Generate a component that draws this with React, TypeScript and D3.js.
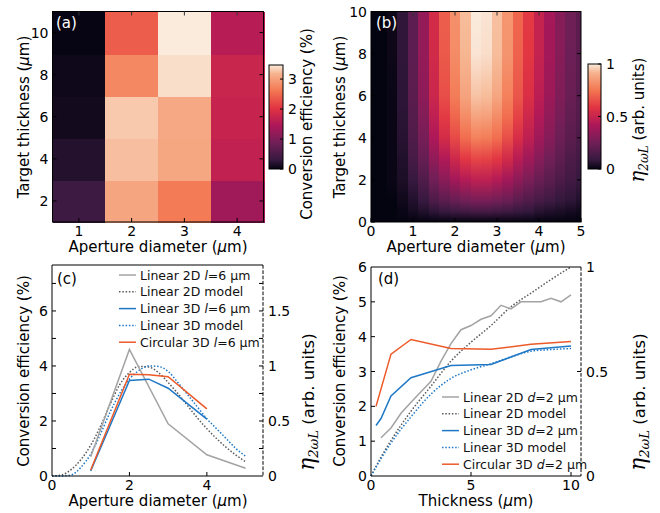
import React from "react";
import * as d3 from "d3";

// (a) simulated conversion efficiency (%), rows = thickness, cols = aperture
const apertures = [1, 2, 3, 4];
const thicknesses = [2, 4, 6, 8, 10];
const efficiencyGrid = [
  [0.36, 3.04, 2.65, 1.32],
  [0.18, 3.24, 3.06, 1.66],
  [0.09, 3.29, 3.07, 1.72],
  [0.06, 2.77, 3.4, 1.75],
  [0.02, 2.39, 3.47, 1.56],
];

// (b) model map eta_2wL, rows = modelThicknesses, cols = modelApertures
const modelApertures = [0, 0.25, 0.5, 0.75, 1, 1.25, 1.5, 1.75, 2, 2.25, 2.5, 2.75, 3, 3.25, 3.5, 3.75, 4, 4.25, 4.5, 4.75, 5];
const modelThicknesses = [0, 0.5, 1, 2, 3, 4, 5, 6, 8, 10];
const modelGrid = [
  [0, 0, 0, 0, 0, 0, 0, 0, 0, 0, 0, 0, 0, 0, 0, 0, 0, 0, 0, 0, 0],
  [0, 0, 0, 0.01, 0.03, 0.05, 0.07, 0.09, 0.11, 0.12, 0.13, 0.13, 0.12, 0.11, 0.09, 0.08, 0.06, 0.05, 0.04, 0.03, 0.02],
  [0, 0, 0, 0.02, 0.05, 0.09, 0.15, 0.19, 0.22, 0.25, 0.27, 0.27, 0.25, 0.23, 0.19, 0.16, 0.13, 0.11, 0.08, 0.07, 0.05],
  [0, 0, 0.01, 0.04, 0.09, 0.16, 0.25, 0.32, 0.39, 0.44, 0.47, 0.47, 0.44, 0.39, 0.33, 0.28, 0.23, 0.19, 0.15, 0.12, 0.09],
  [0, 0, 0.01, 0.05, 0.13, 0.22, 0.34, 0.43, 0.52, 0.59, 0.63, 0.62, 0.59, 0.53, 0.45, 0.38, 0.31, 0.25, 0.2, 0.15, 0.12],
  [0, 0, 0.01, 0.06, 0.16, 0.27, 0.42, 0.54, 0.64, 0.73, 0.78, 0.77, 0.73, 0.65, 0.55, 0.47, 0.38, 0.31, 0.24, 0.19, 0.15],
  [0, 0, 0.01, 0.065, 0.17, 0.3, 0.47, 0.6, 0.71, 0.81, 0.87, 0.86, 0.81, 0.73, 0.62, 0.52, 0.43, 0.34, 0.27, 0.21, 0.17],
  [0, 0, 0.01, 0.07, 0.19, 0.33, 0.51, 0.65, 0.77, 0.87, 0.94, 0.93, 0.88, 0.78, 0.67, 0.56, 0.46, 0.37, 0.29, 0.23, 0.18],
  [0, 0, 0.015, 0.074, 0.2, 0.35, 0.53, 0.68, 0.81, 0.92, 0.99, 0.98, 0.93, 0.83, 0.7, 0.59, 0.49, 0.39, 0.31, 0.24, 0.19],
  [0, 0, 0.015, 0.075, 0.2, 0.35, 0.54, 0.69, 0.82, 0.93, 1.0, 0.99, 0.935, 0.835, 0.71, 0.6, 0.49, 0.395, 0.31, 0.245, 0.19],
];

// (c) efficiency vs aperture at l = 6 um
const cAp2D = [1, 2, 3, 4, 5];
const cLinear2D = [0.7, 4.6, 1.9, 0.77, 0.28];
const cAp3D = [1, 2, 2.5, 3, 4];
const cLinear3D = [0.18, 3.47, 3.52, 3.19, 2.07];
const cCircular3D = [0.22, 3.7, 3.68, 3.61, 2.44];
const cModelAp = [0, 0.25, 0.5, 0.75, 1, 1.25, 1.5, 1.75, 2, 2.25, 2.5, 2.75, 3, 3.25, 3.5, 3.75, 4, 4.25, 4.5, 4.75, 5];
const cModel2D = [0, 0.01, 0.06, 0.15, 0.28, 0.45, 0.65, 0.83, 0.94, 0.995, 0.99, 0.94, 0.85, 0.75, 0.64, 0.53, 0.43, 0.34, 0.26, 0.19, 0.13];
const cModel3D = [0, 0, 0.01, 0.08, 0.2, 0.38, 0.58, 0.75, 0.88, 0.96, 1.0, 0.995, 0.95, 0.85, 0.74, 0.63, 0.52, 0.43, 0.34, 0.25, 0.18];

// (d) efficiency vs thickness at d = 2 um
const dTh2D = [0.5, 1, 1.5, 2, 2.5, 3, 3.5, 4, 4.5, 5, 5.5, 6, 6.5, 7, 7.5, 8, 8.5, 9, 9.5, 10];
const dLinear2D = [1.1, 1.38, 1.8, 2.12, 2.42, 2.72, 3.3, 3.8, 4.2, 4.32, 4.5, 4.6, 4.9, 4.8, 5.0, 5.0, 5.0, 5.1, 5.0, 5.2];
const dTh3D = [0.25, 0.5, 1, 2, 4, 6, 8, 10];
const dLinear3D = [1.45, 1.65, 2.3, 2.82, 3.17, 3.2, 3.63, 3.73];
const dThCirc = [0.25, 1, 2, 4, 6, 8, 10];
const dCircular3D = [2.0, 3.5, 3.92, 3.66, 3.64, 3.78, 3.86];
const dModelTh = [0, 0.5, 1, 2, 3, 4, 5, 6, 7, 8, 9, 10];
const dModel2D = [0, 0.09, 0.17, 0.31, 0.43, 0.55, 0.64, 0.72, 0.81, 0.875, 0.94, 1.0];
const dModel3D = [0, 0.083, 0.158, 0.283, 0.392, 0.467, 0.508, 0.537, 0.57, 0.597, 0.605, 0.61];

const rocketPos = [0, 1 / 12, 3 / 12, 5 / 12, 7 / 12, 9 / 12, 11 / 12, 1];
const rocketCols = ["#040310", "#35193e", "#701f57", "#ad1759", "#e13342", "#f37651", "#f6b48f", "#faebdd"];
const rocket = d3.scaleLinear<string>().domain(rocketPos).range(rocketCols).interpolate(d3.interpolateRgb).clamp(true);

const FONT = "DejaVu Sans";
const GRAY = "#a3a3a3";
const DGRAY = "#5a5a5a";
const BLUE = "#1f78c6";
const ORANGE = "#ec5a29";

const LeftAxis = ({ scale, x, ticks, labels, fmt = (v) => String(v), len = 4 }) => (
  <g>
    {ticks.map((t) => (
      <line key={"t" + t} x1={x} x2={x + len} y1={scale(t)} y2={scale(t)} stroke="#000" />
    ))}
    {labels.map((t) => (
      <text key={"l" + t} x={x - 4} y={scale(t)} dy="0.36em" textAnchor="end" fontSize={14} fontFamily={FONT}>
        {fmt(t)}
      </text>
    ))}
  </g>
);

const RightAxis = ({ scale, x, ticks, labels, fmt = (v) => String(v), len = 4 }) => (
  <g>
    {ticks.map((t) => (
      <line key={"t" + t} x1={x} x2={x - len} y1={scale(t)} y2={scale(t)} stroke="#000" />
    ))}
    {labels.map((t) => (
      <text key={"l" + t} x={x + 5} y={scale(t)} dy="0.36em" textAnchor="start" fontSize={14} fontFamily={FONT}>
        {fmt(t)}
      </text>
    ))}
  </g>
);

const BottomAxis = ({ scale, y, ticks, labels, len = 4 }) => (
  <g>
    {ticks.map((t) => (
      <line key={"t" + t} x1={scale(t)} x2={scale(t)} y1={y} y2={y - len} stroke="#000" />
    ))}
    {labels.map((t) => (
      <text key={"l" + t} x={scale(t)} y={y + 14} textAnchor="middle" fontSize={14} fontFamily={FONT}>
        {t}
      </text>
    ))}
  </g>
);

const TopTicks = ({ scale, y, ticks, len = 4 }) => (
  <g>
    {ticks.map((t) => (
      <line key={t} x1={scale(t)} x2={scale(t)} y1={y} y2={y + len} stroke="#333" />
    ))}
  </g>
);

const VLabel = ({ x, y, children, size = 15 }) => (
  <text transform={`translate(${x},${y}) rotate(-90)`} textAnchor="middle" fontSize={size} fontFamily={FONT}>
    {children}
  </text>
);

const EtaLabel = ({ x, y, size = 15 }) => (
  <text transform={`translate(${x},${y}) rotate(-90)`} textAnchor="middle" fontSize={size} fontFamily={FONT}>
    <tspan fontStyle="italic" fontFamily="DejaVu Serif" fontSize={size * 1.3}>η</tspan>
    <tspan fontStyle="italic" fontFamily="DejaVu Serif" fontSize={size * 0.8} dy={size * 0.27}>2ωL</tspan>
    <tspan dy={-size * 0.27}> (arb. units)</tspan>
  </text>
);

const Legend = ({ x, y0, step, items }) => (
  <g>
    {items.map((it, i) => {
      const y = y0 + i * step;
      return (
        <g key={i}>
          <line x1={x} x2={x + 17} y1={y} y2={y} stroke={it.color} strokeWidth={1.5} strokeDasharray={it.dash ? "1.5 1.8" : undefined} />
          <text x={x + 21} y={y + 4.5} fontSize={12.5} fontFamily={FONT} fill="#111">
            {it.label}
          </text>
        </g>
      );
    })}
  </g>
);

export default function App() {
  // panel (a)
  const ax = d3.scaleLinear().domain([0.5, 4.5]).range([52.5, 263.5]);
  const ay = d3.scaleLinear().domain([1, 11]).range([222, 11.5]);
  const aMax = d3.max(efficiencyGrid.flat());
  const aColor = (v) => rocket(v / aMax);
  const cbA = d3.scaleLinear().domain([0, aMax]).range([169, 65]);

  // panel (b)
  const bx = d3.scaleLinear().domain([0, 5]).range([371, 581]);
  const by = d3.scaleLinear().domain([0, 10]).range([222, 11.5]);
  const cbB = d3.scaleLinear().domain([0, 1]).range([169, 64]);
  const half = (modelApertures[1] - modelApertures[0]) / 2;

  // panel (c)
  const cx = d3.scaleLinear().domain([0, 5.45]).range([52, 263]);
  const cy = d3.scaleLinear().domain([0, 7.67]).range([476, 265]);
  const cyR = d3.scaleLinear().domain([0, 7.67 / 4]).range([476, 265]);

  // panel (d)
  const dx = d3.scaleLinear().domain([0, 10.5]).range([371, 581]);
  const dy = d3.scaleLinear().domain([0, 6]).range([476, 267]);
  const dyR = d3.scaleLinear().domain([0, 1]).range([476, 267]);

  const lineC = (xs, ys, yS, curve = d3.curveLinear) =>
    d3.line<number>().x((_, i) => cx(xs[i])).y((v) => yS(v)).curve(curve)(ys);
  const lineD = (xs, ys, yS, curve = d3.curveLinear) =>
    d3.line<number>().x((_, i) => dx(xs[i])).y((v) => yS(v)).curve(curve)(ys);

  const it = (txt) => <tspan fontStyle="italic">{txt}</tspan>;

  return (
    <svg width={660} height={513} style={{ position: "absolute", left: 0, top: 0, background: "#fff" }}>
      <defs>
        <linearGradient id="rocketBar" x1="0" y1="1" x2="0" y2="0">
          {rocketPos.map((p, i) => (
            <stop key={i} offset={p} stopColor={rocketCols[i]} />
          ))}
        </linearGradient>
        {modelApertures.map((d, i) => (
          <linearGradient key={i} id={"bcol" + i} x1="0" y1="1" x2="0" y2="0">
            {modelThicknesses.map((l, j) => (
              <stop key={j} offset={l / 10} stopColor={rocket(modelGrid[j][i])} />
            ))}
          </linearGradient>
        ))}
        <clipPath id="bclip">
          <rect x={371} y={11.5} width={210} height={210.5} />
        </clipPath>
      </defs>

      {/* (a) */}
      <g>
        <g shapeRendering="crispEdges">
          {thicknesses.map((th, r) =>
            apertures.map((ap, c) => (
              <rect
                key={r + "-" + c}
                x={ax(ap - 0.5)}
                y={ay(th + 1)}
                width={ax(ap + 0.5) - ax(ap - 0.5) + 1}
                height={ay(th - 1) - ay(th + 1) + 1}
                fill={aColor(efficiencyGrid[r][c])}
              />
            ))
          )}
        </g>
        <rect x={52.5} y={11.5} width={211} height={210.5} fill="none" stroke="#000" />
        <TopTicks scale={ax} y={11.5} ticks={apertures} />
        <BottomAxis scale={ax} y={222} ticks={apertures} labels={apertures} />
        <LeftAxis scale={ay} x={52.5} ticks={thicknesses} labels={thicknesses} />
        <RightAxis scale={ay} x={263.5} ticks={thicknesses} labels={[]} />
        <text x={56} y={28} fill="#fff" fontSize={15} fontFamily={FONT}>(a)</text>
        <text x={158} y={252} textAnchor="middle" fontSize={15} fontFamily={FONT}>
          Aperture diameter (<tspan fontStyle="italic">μ</tspan>m)
        </text>
        <VLabel x={29} y={117}>
          Target thickness (<tspan fontStyle="italic">μ</tspan>m)
        </VLabel>
        <rect x={269} y={65} width={14} height={104} fill="url(#rocketBar)" stroke="#000" />
        <RightAxis scale={cbA} x={283} ticks={[0, 1, 2, 3]} labels={[0, 1, 2, 3]} len={3} />
        <VLabel x={312} y={124}>Conversion efficiency (%)</VLabel>
      </g>

      {/* (b) */}
      <g>
        <g clipPath="url(#bclip)" shapeRendering="crispEdges">
          {modelApertures.map((d, i) => {
            const x0 = bx(Math.max(0, d - half));
            const x1 = bx(Math.min(5, d + half));
            return <rect key={i} x={x0} y={by(10)} width={x1 - x0 + 1} height={by(0) - by(10)} fill={`url(#bcol${i})`} />;
          })}
        </g>
        <rect x={371} y={11.5} width={210} height={210.5} fill="none" stroke="#000" />
        <TopTicks scale={bx} y={11.5} ticks={[1, 2, 3, 4]} />
        <BottomAxis scale={bx} y={222} ticks={[0, 1, 2, 3, 4, 5]} labels={[0, 1, 2, 3, 4, 5]} />
        <LeftAxis scale={by} x={371} ticks={[0, 2, 4, 6, 8, 10]} labels={[0, 2, 4, 6, 8, 10]} />
        <RightAxis scale={by} x={581} ticks={[2, 4, 6, 8]} labels={[]} />
        <text x={376} y={28} fill="#fff" fontSize={15} fontFamily={FONT}>(b)</text>
        <text x={476} y={252} textAnchor="middle" fontSize={15} fontFamily={FONT}>
          Aperture diameter (<tspan fontStyle="italic">μ</tspan>m)
        </text>
        <VLabel x={345} y={117}>
          Target thickness (<tspan fontStyle="italic">μ</tspan>m)
        </VLabel>
        <rect x={588} y={64} width={13} height={105} fill="url(#rocketBar)" stroke="#000" />
        <RightAxis scale={cbB} x={601} ticks={[0, 0.5, 1]} labels={[0, 0.5, 1]} len={3} />
        <EtaLabel x={644} y={120} />
      </g>

      {/* (c) */}
      <g>
        <path d={lineC(cModelAp, cModel2D, cyR, d3.curveMonotoneX)} fill="none" stroke={DGRAY} strokeWidth={1.5} strokeDasharray="1.5 1.8" />
        <path d={lineC(cModelAp, cModel3D, cyR, d3.curveMonotoneX)} fill="none" stroke={BLUE} strokeWidth={1.5} strokeDasharray="1.5 1.8" />
        <path d={lineC(cAp2D, cLinear2D, cy)} fill="none" stroke={GRAY} strokeWidth={1.5} />
        <path d={lineC(cAp3D, cLinear3D, cy)} fill="none" stroke={BLUE} strokeWidth={1.5} />
        <path d={lineC(cAp3D, cCircular3D, cy)} fill="none" stroke={ORANGE} strokeWidth={1.5} />
        <line x1={52} x2={52} y1={265} y2={476} stroke="#000" />
        <line x1={52} x2={263} y1={476} y2={476} stroke="#000" />
        <line x1={52} x2={263} y1={265} y2={265} stroke="#000" />
        <line x1={263} x2={263} y1={265} y2={476} stroke="#000" strokeDasharray="3.7 1.6" />
        <LeftAxis scale={cy} x={52} ticks={[1, 2, 3, 4, 5, 6, 7]} labels={[0, 2, 4, 6]} />
        <BottomAxis scale={cx} y={476} ticks={[2, 4]} labels={[0, 2, 4]} />
        <RightAxis scale={cyR} x={263} ticks={[0.25, 0.5, 0.75, 1, 1.25, 1.5, 1.75]} labels={[0, 0.5, 1, 1.5]} />
        <text x={57} y={284} fontSize={15} fontFamily={FONT}>(c)</text>
        <Legend
          x={119}
          y0={275}
          step={16.8}
          items={[
            { color: GRAY, label: <>Linear 2D {it("l")}=6 µm</> },
            { color: DGRAY, dash: true, label: "Linear 2D model" },
            { color: BLUE, label: <>Linear 3D {it("l")}=6 µm</> },
            { color: BLUE, dash: true, label: "Linear 3D model" },
            { color: ORANGE, label: <>Circular 3D {it("l")}=6 µm</> },
          ]}
        />
        <text x={158} y={506} textAnchor="middle" fontSize={15} fontFamily={FONT}>
          Aperture diameter (<tspan fontStyle="italic">μ</tspan>m)
        </text>
        <VLabel x={29} y={371}>Conversion efficiency (%)</VLabel>
        <EtaLabel x={314} y={402} size={16.5} />
      </g>

      {/* (d) */}
      <g>
        <path d={lineD(dModelTh, dModel2D, dyR, d3.curveMonotoneX)} fill="none" stroke={DGRAY} strokeWidth={1.5} strokeDasharray="1.5 1.8" />
        <path d={lineD(dModelTh, dModel3D, dyR, d3.curveMonotoneX)} fill="none" stroke={BLUE} strokeWidth={1.5} strokeDasharray="1.5 1.8" />
        <path d={lineD(dTh2D, dLinear2D, dy)} fill="none" stroke={GRAY} strokeWidth={1.5} />
        <path d={lineD(dTh3D, dLinear3D, dy)} fill="none" stroke={BLUE} strokeWidth={1.5} />
        <path d={lineD(dThCirc, dCircular3D, dy)} fill="none" stroke={ORANGE} strokeWidth={1.5} />
        <line x1={371} x2={371} y1={267} y2={476} stroke="#000" />
        <line x1={371} x2={581} y1={476} y2={476} stroke="#000" />
        <line x1={371} x2={581} y1={267} y2={267} stroke="#000" />
        <line x1={581} x2={581} y1={267} y2={476} stroke="#000" strokeDasharray="3.7 1.6" />
        <LeftAxis scale={dy} x={371} ticks={[1, 2, 3, 4, 5]} labels={[0, 1, 2, 3, 4, 5, 6]} />
        <BottomAxis scale={dx} y={476} ticks={[5, 10]} labels={[0, 5, 10]} />
        <RightAxis scale={dyR} x={581} ticks={[0.5]} labels={[0, 0.5, 1]} />
        <text x={378} y={284} fontSize={15} fontFamily={FONT}>(d)</text>
        <Legend
          x={442}
          y0={397}
          step={16.8}
          items={[
            { color: GRAY, label: <>Linear 2D {it("d")}=2 µm</> },
            { color: DGRAY, dash: true, label: "Linear 2D model" },
            { color: BLUE, label: <>Linear 3D {it("d")}=2 µm</> },
            { color: BLUE, dash: true, label: "Linear 3D model" },
            { color: ORANGE, label: <>Circular 3D {it("d")}=2 µm</> },
          ]}
        />
        <text x={476} y={506} textAnchor="middle" fontSize={15} fontFamily={FONT}>
          Thickness (<tspan fontStyle="italic">μ</tspan>m)
        </text>
        <VLabel x={345} y={371}>Conversion efficiency (%)</VLabel>
        <EtaLabel x={645} y={402} size={16.5} />
      </g>
    </svg>
  );
}
